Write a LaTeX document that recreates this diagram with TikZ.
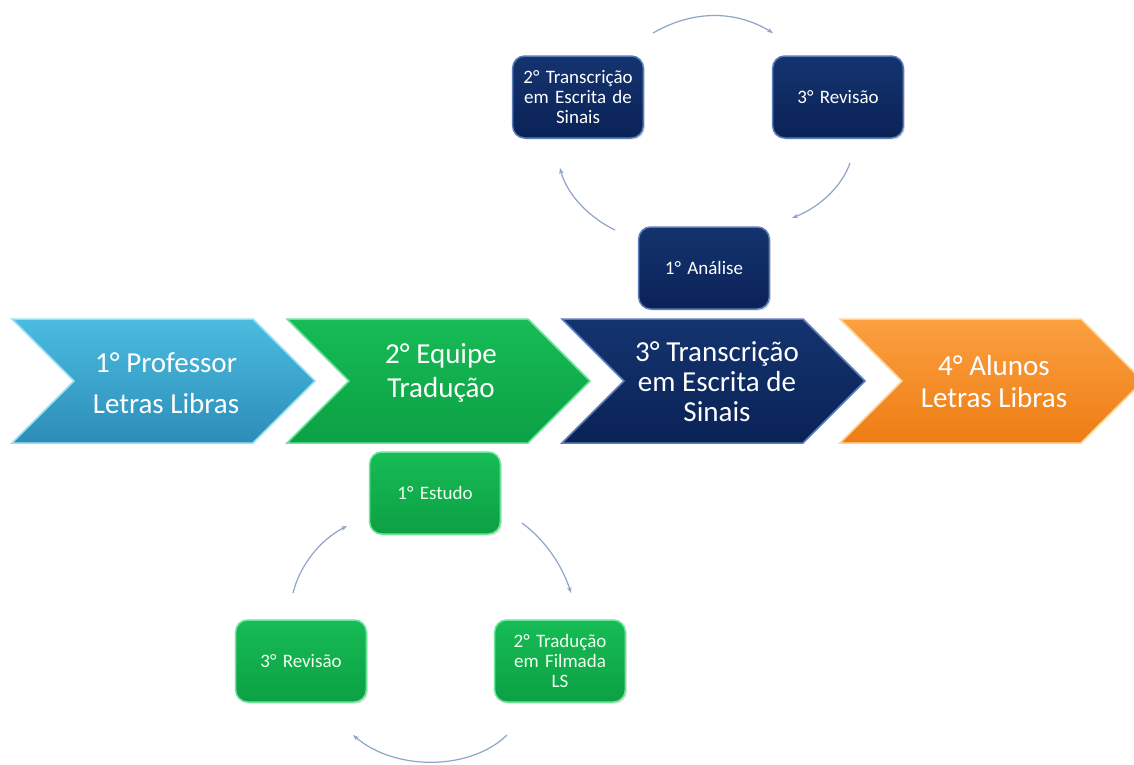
\documentclass[tikz,border=0pt]{standalone}
\usepackage{fontspec}
\setmainfont{Carlito}
\usetikzlibrary{shadows,arrows.meta}
\definecolor{bluetop}{HTML}{4BBCE0}
\definecolor{bluebot}{HTML}{2C8DB8}
\definecolor{bluerim}{HTML}{9BE0F4}
\definecolor{greentop}{HTML}{16BC55}
\definecolor{greenbot}{HTML}{0CA044}
\definecolor{greenrim}{HTML}{6EE39A}
\definecolor{navytop}{HTML}{14346F}
\definecolor{navybot}{HTML}{0A2256}
\definecolor{navyrim}{HTML}{5B7DBA}
\definecolor{orangetop}{HTML}{FBA040}
\definecolor{orangebot}{HTML}{EE7D14}
\definecolor{orangerim}{HTML}{FDD49A}
\definecolor{arrowcol}{HTML}{8EA5C7}
\begin{document}
\begin{tikzpicture}[x=1pt,y=-1pt,
  chev/.style={line width=1.5pt, line join=miter},
  chevtext/.style={text=white, align=center, font=\fontsize{29}{30}\selectfont},
  smallbox/.style={rounded corners=12pt, minimum width=127pt, minimum height=82pt,
     text width=124pt, align=center, line width=1.5pt,
     font=\fontsize{19}{20}\selectfont,
     drop shadow={opacity=0.25, shadow xshift=1.5pt, shadow yshift=-1.5pt}},
  navybox/.style={smallbox, top color=navytop, bottom color=navybot, draw=navyrim, text=white},
  greenbox/.style={smallbox, top color=greentop, bottom color=greenbot, draw=greenrim, text=white!94!green},
  cyc/.style={draw=arrowcol, line width=1.2pt, -{Stealth[length=6pt,width=4.5pt]}}
]
\useasboundingbox (0,0) rectangle (1134,764);
\clip (0,0) rectangle (1134,764);
\fill[white] (0,0) rectangle (1134,764);

% chevrons
\path[chev, top color=bluetop, bottom color=bluebot, draw=bluerim]
  (12,319) -- (253,319) -- (315,381) -- (253,443) -- (12,443) -- (74,381) -- cycle;
\path[chev, top color=greentop, bottom color=greenbot, draw=greenrim]
  (287,319) -- (528,319) -- (590,381) -- (528,443) -- (287,443) -- (349,381) -- cycle;
\path[chev, top color=navytop, bottom color=navybot, draw=navyrim]
  (562,319) -- (803,319) -- (865,381) -- (803,443) -- (562,443) -- (624,381) -- cycle;
\path[chev, top color=orangetop, bottom color=orangebot, draw=orangerim]
  (840,319) -- (1081,319) -- (1143,381) -- (1081,443) -- (840,443) -- (902,381) -- cycle;

\node[chevtext] (c1) at (166,383) {1° Professor\\[11pt]Letras Libras};
\node[chevtext] (c2) at (441,373) {2° Equipe\\[4pt]Tradução};
\node[chevtext] (c3) at (717,382) {3° Transcrição\\em Escrita de\\Sinais};
\node[chevtext] (c4) at (994,382) {4° Alunos\\[2pt]Letras Libras};

% top cycle (navy)
\node[navybox] (n2) at (578,97) {2° Transcrição\\em Escrita de\\Sinais};
\node[navybox] (n3) at (838,97) {3° Revisão};
\node[navybox] (n1) at (704,268) {1° Análise};

\coordinate (ta) at (653,33);
\coordinate (tb) at (773,33);
\coordinate (ra) at (850,163);
\coordinate (rb) at (792,218);
\coordinate (la) at (615,230);
\coordinate (lb) at (560,168);
\draw[cyc] (ta) .. controls (693,10) and (735,10) .. (tb);
\draw[cyc] (ra) .. controls (842,186) and (820,207) .. (rb);
\draw[cyc] (la) .. controls (590,218) and (567,195) .. (lb);

% bottom cycle (green)
\node[greenbox] (g1) at (435,493) {1° Estudo};
\node[greenbox] (g2) at (560,661) {2° Tradução\\em Filmada\\LS};
\node[greenbox] (g3) at (301,661) {3° Revisão};

\coordinate (bra) at (522,523);
\coordinate (brb) at (571,593);
\coordinate (bba) at (507,735);
\coordinate (bbb) at (353,735);
\coordinate (bla) at (293,593);
\coordinate (blb) at (347,526);
\draw[cyc] (bra) .. controls (545,540) and (562,565) .. (brb);
\draw[cyc] (bba) .. controls (470,771) and (395,771) .. (bbb);
\draw[cyc] (bla) .. controls (300,565) and (320,540) .. (blb);
\end{tikzpicture}
\end{document}
